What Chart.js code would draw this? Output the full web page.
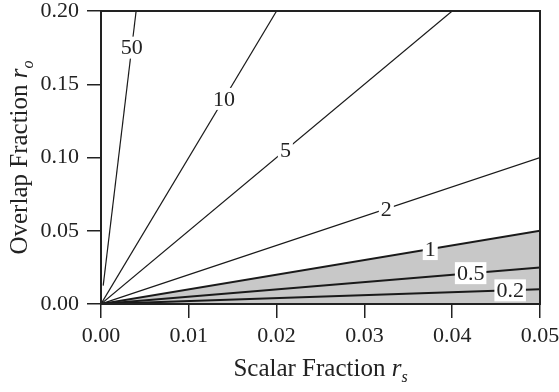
<!DOCTYPE html>
<html>
<head>
<meta charset="utf-8">
<script src="https://cdn.jsdelivr.net/npm/chart.js@4.4.1/dist/chart.umd.min.js"></script>
<style>
  html, body { margin: 0; padding: 0; background: #fff; }
</style>
</head>
<body>
<canvas id="grafico" width="559" height="392"></canvas>
<script>
// DADOS (razao r_o / r_s de cada linha)
const rotulos = ['50', '10', '5', '2', '1', '0.5', '0.2'];
const inicioX = [0.00025, 0, 0, 0, 0, 0, 0];
const inicioY = [0.0125, 0, 0, 0, 0, 0, 0];
const fimX = [0.004, 0.02, 0.04, 0.05, 0.05, 0.05, 0.05];
const fimY = [0.2, 0.2, 0.2, 0.1, 0.05, 0.025, 0.01];
const rotuloX = [0.0035, 0.014, 0.021, 0.0325, 0.0375, 0.0421, 0.0466]; // onde fica o numero em cada linha
const ticksX = [0, 0.01, 0.02, 0.03, 0.04, 0.05];
const ticksY = [0, 0.05, 0.10, 0.15, 0.20];

const fonte = 'Liberation Serif';
const corTexto = '#222';

// monta os datasets a partir dos arrays
const datasets = rotulos.map((r, i) => ({
  label: r,
  data: [{ x: inicioX[i], y: inicioY[i] }, { x: fimX[i], y: fimY[i] }],
  showLine: true,
  borderColor: '#1a1a1a',
  borderWidth: i >= 4 ? 2 : 1.2,
  pointRadius: 0,
  fill: r === '1' ? 'origin' : false, // area cinza abaixo da linha 1
  backgroundColor: '#c8c8c8'
}));

// numeros em cima das linhas com fundo branco (corta a linha)
const rotulosPlugin = {
  id: 'rotulosLinhas',
  afterDatasetsDraw(chart) {
    const ctx = chart.ctx;
    const sx = chart.scales.x, sy = chart.scales.y;
    ctx.save();
    ctx.font = '22px "' + fonte + '"';
    ctx.textAlign = 'center';
    ctx.textBaseline = 'middle';
    rotulos.forEach((r, i) => {
      const t = (rotuloX[i] - inicioX[i]) / (fimX[i] - inicioX[i]);
      const yv = inicioY[i] + t * (fimY[i] - inicioY[i]);
      const px = sx.getPixelForValue(rotuloX[i]);
      const py = sy.getPixelForValue(yv);
      const w = ctx.measureText(r).width + 4;
      ctx.fillStyle = '#fff';
      ctx.fillRect(px - w / 2, py - 11, w, 22);
      ctx.fillStyle = corTexto;
      ctx.fillText(r, px, py + 1);
    });
    ctx.restore();
  }
};

// titulo do eixo com r em italico e subscrito
function tituloEixo(ctx, texto, letra, sub, cx, baseY) {
  const fn = '25px "' + fonte + '"';
  const fi = 'italic 25px "' + fonte + '"';
  const fs = 'italic 16px "' + fonte + '"';
  ctx.font = fn; const w1 = ctx.measureText(texto).width;
  ctx.font = fi; const w2 = ctx.measureText(letra).width;
  ctx.font = fs; const w3 = ctx.measureText(sub).width;
  let x = cx - (w1 + w2 + w3) / 2;
  ctx.textAlign = 'left';
  ctx.textBaseline = 'alphabetic';
  ctx.font = fn; ctx.fillText(texto, x, baseY); x += w1;
  ctx.font = fi; ctx.fillText(letra, x, baseY); x += w2;
  ctx.font = fs; ctx.fillText(sub, x, baseY + 6);
}

// moldura em volta da area do grafico + titulos
const molduraPlugin = {
  id: 'moldura',
  afterDraw(chart) {
    const ctx = chart.ctx;
    const a = chart.chartArea;
    ctx.save();
    ctx.strokeStyle = '#222';
    ctx.lineWidth = 2;
    ctx.strokeRect(a.left, a.top, a.right - a.left, a.bottom - a.top);
    ctx.fillStyle = corTexto;
    tituloEixo(ctx, 'Scalar Fraction ', 'r', 's', (a.left + a.right) / 2, 376);
    ctx.translate(27, (a.top + a.bottom) / 2);
    ctx.rotate(-Math.PI / 2);
    tituloEixo(ctx, 'Overlap Fraction ', 'r', 'o', 0, 0);
    ctx.restore();
  }
};

const grafico = new Chart(document.getElementById('grafico'), {
  type: 'scatter',
  data: { datasets },
  options: {
    responsive: false,
    devicePixelRatio: 1,
    animation: false,
    layout: { padding: { left: 0, right: 19, top: 11, bottom: 0 } },
    plugins: {
      legend: { display: false },
      tooltip: { enabled: false },
      filler: { drawTime: 'beforeDatasetsDraw' }
    },
    scales: {
      x: {
        type: 'linear',
        min: 0, max: 0.05,
        afterBuildTicks: s => { s.ticks = ticksX.map(v => ({ value: v })); },
        afterFit: s => { s.height = 88; s.paddingLeft = 0; s.paddingRight = 0; },
        border: { display: false },
        grid: { drawOnChartArea: false, tickLength: 14, color: '#222', lineWidth: 1.5 },
        ticks: {
          color: corTexto, padding: 5,
          font: { family: fonte, size: 22 },
          maxRotation: 0,
          callback: v => v.toFixed(2)
        }
      },
      y: {
        type: 'linear',
        min: 0, max: 0.2,
        afterBuildTicks: s => { s.ticks = ticksY.map(v => ({ value: v })); },
        afterFit: s => { s.width = 101; s.paddingTop = 0; s.paddingBottom = 0; },
        border: { display: false },
        grid: { drawOnChartArea: false, tickLength: 14, color: '#222', lineWidth: 1.5 },
        ticks: {
          color: corTexto, padding: 8,
          font: { family: fonte, size: 22 },
          callback: v => v.toFixed(2)
        }
      }
    }
  },
  plugins: [rotulosPlugin, molduraPlugin]
});
</script>
</body>
</html>
